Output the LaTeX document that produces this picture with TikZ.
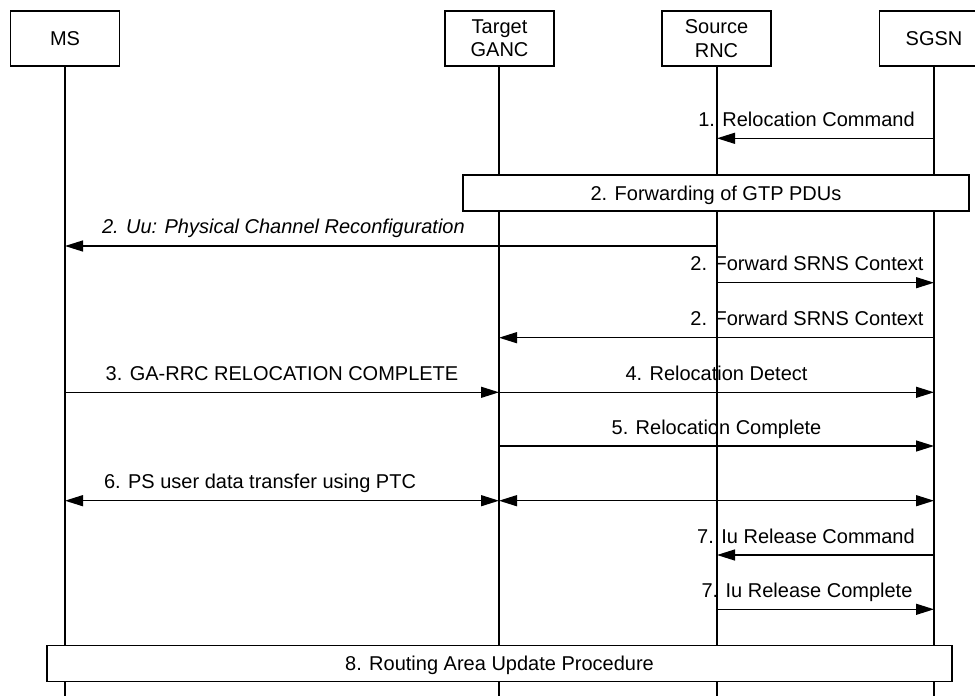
\documentclass[tikz,border=0pt]{standalone}
\usepackage{fontspec}
\setmainfont{Liberation Sans}
\usetikzlibrary{arrows.meta}
\tikzset{
  lw/.style={line width=1.3pt},
  actor/.style={draw, lw, fill=white, minimum width=109pt, minimum height=55pt,
    align=center, inner sep=0pt, font=\fontsize{20}{23.3}\selectfont},
  lbl/.style={inner sep=0pt, anchor=base, font=\fontsize{20}{23.3}\selectfont},
  bar/.style={draw, lw, fill=white, inner sep=0pt, minimum height=36pt,
    text height=14.3pt, text depth=0pt, font=\fontsize{20}{23.3}\selectfont},
  life/.style={lw},
  msg/.style={lw, -{Triangle[length=18pt,width=11pt]}},
  bimsg/.style={lw, {Triangle[length=18pt,width=11pt]}-{Triangle[length=18pt,width=11pt]}}
}
\begin{document}
\begin{tikzpicture}[x=1pt,y=-1pt]
\useasboundingbox (0,0) rectangle (975,696);
% actors
\node[actor] (ms)  at (65,38.5)    {MS};
\node[actor] (tgt) at (499.5,38.5) {Target\\GANC};
\node[actor] (src) at (716.5,38.5) {Source\\RNC};
\node[actor] (sgsn) at (934,38.5)  {SGSN};
% lifeline ends
\coordinate (msE)   at (65,696);
\coordinate (tgtE)  at (499,696);
\coordinate (srcE)  at (717,696);
\coordinate (sgsnE) at (934,696);
\draw[life] (ms.south) -- (msE);
\draw[life] (tgt.south -| tgtE) -- (tgtE);
\draw[life] (src.south -| srcE) -- (srcE);
\draw[life] (sgsn.south) -- (sgsnE);
% 1
\draw[msg] (sgsnE |- 0,138.3) -- (srcE |- 0,138.3);
\node[lbl] (l1) at (806.5,126) {1. Relocation Command};
% box 2
\node[bar, minimum width=506pt] (b2) at (716,193) {2. Forwarding of GTP PDUs};
% Uu
\draw[msg] (srcE |- 0,246) -- (msE |- 0,246);
\node[lbl, anchor=base east] (luu) at (465,233.5) {\itshape 2. Uu: Physical Channel Reconfiguration};
% SRNS 1
\draw[msg] (srcE |- 0,282.7) -- (sgsnE |- 0,282.7);
\node[lbl] (ls1) at (807,270.5) {2. Forward SRNS Context};
% SRNS 2
\draw[msg] (sgsnE |- 0,337.7) -- (tgtE |- 0,337.7);
\node[lbl] (ls2) at (807,325.5) {2. Forward SRNS Context};
% 3 and 4
\draw[msg] (msE |- 0,392.3) -- (tgtE |- 0,392.3);
\node[lbl] (l3) at (282,380) {3. GA-RRC RELOCATION COMPLETE};
\draw[msg] (tgtE |- 0,392.3) -- (sgsnE |- 0,392.3);
\node[lbl] (l4) at (716.5,380) {4. Relocation Detect};
% 5
\draw[msg] (tgtE |- 0,446) -- (sgsnE |- 0,446);
\node[lbl] (l5) at (716.5,434) {5. Relocation Complete};
% 6
\draw[bimsg] (msE |- 0,500.7) -- (tgtE |- 0,500.7);
\draw[bimsg] (tgtE |- 0,500.7) -- (sgsnE |- 0,500.7);
\node[lbl] (l6) at (260,488) {6. PS user data transfer using PTC};
% 7
\draw[msg] (sgsnE |- 0,555) -- (srcE |- 0,555);
\node[lbl] (l7a) at (806,543) {7. Iu Release Command};
\draw[msg] (srcE |- 0,609.3) -- (sgsnE |- 0,609.3);
\node[lbl] (l7b) at (807,597) {7. Iu Release Complete};
% box 8
\node[bar, minimum width=905pt] (b8) at (499.5,663.5) {8. Routing Area Update Procedure};
\end{tikzpicture}
\end{document}
